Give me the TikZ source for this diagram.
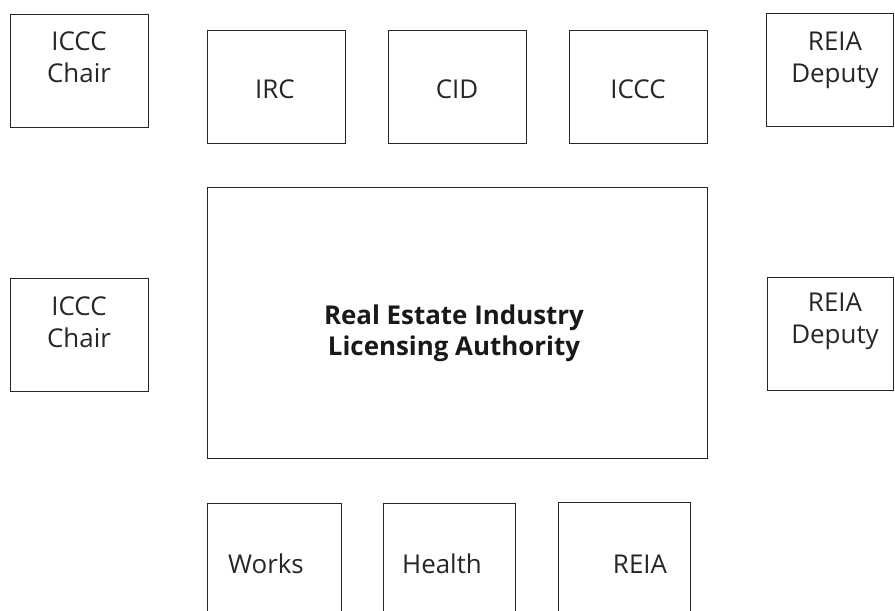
\documentclass[tikz,border=0pt]{standalone}
\usepackage{fontspec}
\setmainfont{Open Sans}
\begin{document}
\begin{tikzpicture}[x=1bp,y=-1bp,
  box/.style={draw=black!85,line width=1.2bp,inner sep=0pt,anchor=north west},
  lbl/.style={font=\fontsize{26}{32}\selectfont,text=black!85,inner sep=0pt,align=center},
  big/.style={font=\fontsize{26}{31}\selectfont\bfseries,text=black!90,inner sep=0pt,align=center}]
\useasboundingbox (0,0) rectangle (895,611);
\clip (0,0) rectangle (895,611);
% top row
\node[box,minimum width=138bp,minimum height=113bp] (cA) at (10,14) {};
\node[lbl,anchor=north] (cAt) at (79,32) {ICCC\\Chair};
\node[box,minimum width=138bp,minimum height=113bp] (irc) at (207,30) {};
\node[lbl] (irct) at (275,89) {IRC};
\node[box,minimum width=138bp,minimum height=113bp] (cid) at (388,30) {};
\node[lbl] (cidt) at (457,89) {CID};
\node[box,minimum width=138bp,minimum height=113bp] (iccc) at (569,30) {};
\node[lbl] (iccct) at (638,89) {ICCC};
\node[box,minimum width=127bp,minimum height=113bp] (rA) at (766,13) {};
\node[lbl,anchor=north] (rAt) at (835,32) {REIA\\Deputy};
% middle row
\node[box,minimum width=138bp,minimum height=113bp] (cB) at (10,278) {};
\node[lbl,anchor=north] (cBt) at (79,297) {ICCC\\Chair};
\node[box,minimum width=500bp,minimum height=271bp] (rel) at (207,187) {};
\node[big,anchor=north] (relt) at (454,305) {Real Estate Industry\\Licensing Authority};
\node[box,minimum width=126bp,minimum height=113bp] (rB) at (767,277) {};
\node[lbl,anchor=north] (rBt) at (835,293) {REIA\\Deputy};
% bottom row
\node[box,minimum width=134bp,minimum height=130bp] (wk) at (207,503) {};
\node[lbl,anchor=base] (wkt) at (266,573) {Works};
\node[box,minimum width=132bp,minimum height=130bp] (hl) at (383,503) {};
\node[lbl,anchor=base] (hlt) at (442,573) {Health};
\node[box,minimum width=132bp,minimum height=130bp] (re) at (558,502) {};
\node[lbl,anchor=base] (ret) at (640,573) {REIA};
\end{tikzpicture}
\end{document}
